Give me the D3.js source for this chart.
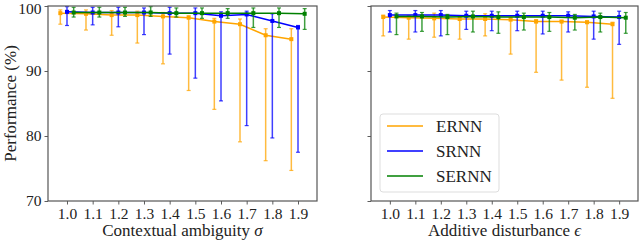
<!DOCTYPE html>
<html>
<head>
<meta charset="utf-8">
<script src="https://cdn.jsdelivr.net/npm/d3@7"></script>
<style>
  body { margin: 0; background: #fff; }
  svg text { font-family: "Liberation Serif", "Times New Roman", serif; fill: #222; }
</style>
</head>
<body>
<div id="chart"></div>
<script>
// x categories (sigma / epsilon)
const levels = [1.0, 1.1, 1.2, 1.3, 1.4, 1.5, 1.6, 1.7, 1.8, 1.9];
const yTicks = [70, 80, 90, 100];

// left panel: contextual ambiguity
const ernnAmbMean = [98.9, 98.8, 98.6, 98.6, 98.4, 98.2, 97.6, 97.2, 95.5, 94.9];
const ernnAmbLow  = [97.2, 96.3, 95.5, 94.3, 91.1, 87.0, 84.1, 79.1, 76.2, 74.7];
const ernnAmbHigh = [99.4, 99.4, 99.3, 99.2, 99.0, 98.5, 98.1, 98.0, 96.5, 96.5];

const srnnAmbMean = [99.1, 99.0, 99.0, 99.0, 98.9, 98.9, 98.5, 98.7, 97.7, 96.7];
const srnnAmbLow  = [97.0, 97.1, 96.8, 95.6, 92.6, 88.9, 85.4, 81.6, 79.7, 77.5];
const srnnAmbHigh = [99.9, 99.8, 99.8, 99.7, 99.8, 99.7, 99.1, 99.2, 98.8, 97.0];

const sernnAmbMean = [99.0, 99.0, 99.0, 99.0, 98.9, 98.9, 98.9, 98.9, 98.9, 98.8];
const sernnAmbLow  = [98.3, 98.3, 98.4, 98.4, 98.3, 98.1, 98.1, 96.7, 96.7, 96.4];
const sernnAmbHigh = [99.8, 99.8, 99.8, 99.9, 99.7, 99.7, 99.6, 99.7, 99.7, 99.6];

// right panel: additive disturbance
const ernnAddMean = [98.3, 98.2, 98.1, 98.0, 98.0, 97.9, 97.6, 97.6, 97.5, 97.2];
const ernnAddLow  = [95.4, 94.9, 95.2, 94.9, 95.4, 92.6, 89.8, 88.6, 87.5, 85.8];
const ernnAddHigh = [98.6, 98.5, 98.9, 98.4, 98.8, 98.2, 97.9, 97.8, 97.7, 97.5];

const srnnAddMean = [98.6, 98.6, 98.6, 98.5, 98.5, 98.5, 98.5, 98.5, 98.4, 98.3];
const srnnAddLow  = [96.0, 96.0, 95.4, 96.4, 96.2, 96.2, 95.7, 96.0, 94.9, 94.1];
const srnnAddHigh = [99.3, 99.3, 99.3, 99.2, 99.2, 99.2, 99.2, 99.1, 99.2, 99.2];

const sernnAddMean = [98.4, 98.4, 98.3, 98.4, 98.3, 98.3, 98.3, 98.2, 98.3, 98.2];
const sernnAddLow  = [95.6, 96.1, 95.6, 96.0, 95.8, 96.3, 96.1, 96.3, 96.0, 95.8];
const sernnAddHigh = [98.9, 99.0, 98.7, 99.2, 99.1, 98.9, 99.0, 98.7, 98.9, 99.0];

const seriesNames = ["ERNN", "SRNN", "SERNN"];
const colors = ["#FFA500", "#0000FF", "#008000"];
const offsets = [-0.026, 0, 0.026];

const panels = [
  {
    left: 48, right: 317, xlabel: "Contextual ambiguity ", sym: "σ", showY: true,
    series: [
      [ernnAmbMean, ernnAmbLow, ernnAmbHigh],
      [srnnAmbMean, srnnAmbLow, srnnAmbHigh],
      [sernnAmbMean, sernnAmbLow, sernnAmbHigh],
    ],
  },
  {
    left: 371, right: 638, xlabel: "Additive disturbance ", sym: "ϵ", showY: false,
    series: [
      [ernnAddMean, ernnAddLow, ernnAddHigh],
      [srnnAddMean, srnnAddLow, srnnAddHigh],
      [sernnAddMean, sernnAddLow, sernnAddHigh],
    ],
  },
];

const W = 640, H = 240, plotTop = 6, plotBottom = 201;

const svg = d3.select("#chart").append("svg")
  .attr("width", W).attr("height", H);

const y = d3.scaleLinear().domain([70, 100]).range([plotBottom, plotTop]);

panels.forEach((p) => {
  const x = d3.scaleLinear().domain([0.926, 1.974]).range([p.left, p.right]);
  const g = svg.append("g");

  // x axis
  const xa = g.append("g")
    .attr("transform", `translate(0,${plotBottom})`)
    .call(d3.axisBottom(x).tickValues(levels).tickFormat(d3.format(".1f")).tickSize(3.5).tickPadding(3));
  xa.select(".domain").remove();
  xa.selectAll("line").attr("stroke", "#333").attr("stroke-width", 0.8);
  xa.selectAll("text").attr("font-size", 15.5).attr("fill", "#222");

  // y axis
  const ya = g.append("g")
    .attr("transform", `translate(${p.left},0)`)
    .call(d3.axisLeft(y).tickValues(yTicks).tickSize(3.5).tickPadding(3)
      .tickFormat(p.showY ? d3.format("d") : () => ""));
  ya.select(".domain").remove();
  ya.selectAll("line").attr("stroke", "#333").attr("stroke-width", 0.8);
  ya.selectAll("text").attr("font-size", 15.5).attr("fill", "#222")
    .attr("dy", (d) => (d === 100 ? "0.5em" : "0.32em"));

  // series
  p.series.forEach((s, si) => {
    const [mean, low, high] = s;
    const col = colors[si];
    const pts = levels.map((lv, i) => ({ x: lv + offsets[si], m: mean[i], lo: low[i], hi: high[i] }));
    const sg = g.append("g");

    sg.selectAll("line.err").data(pts).enter().append("line")
      .attr("x1", (d) => x(d.x)).attr("x2", (d) => x(d.x))
      .attr("y1", (d) => y(d.lo)).attr("y2", (d) => y(d.hi))
      .attr("stroke", col).attr("stroke-width", 1.5).attr("opacity", 0.75);

    ["lo", "hi"].forEach((k) => {
      sg.selectAll("line.cap-" + k).data(pts).enter().append("line")
        .attr("x1", (d) => x(d.x) - 2).attr("x2", (d) => x(d.x) + 2)
        .attr("y1", (d) => y(d[k])).attr("y2", (d) => y(d[k]))
        .attr("stroke", col).attr("stroke-width", 1.2).attr("opacity", 0.75);
    });

    sg.append("path").datum(pts)
      .attr("d", d3.line().x((d) => x(d.x)).y((d) => y(d.m)))
      .attr("fill", "none").attr("stroke", col).attr("stroke-width", 1.5);

    sg.selectAll("rect").data(pts).enter().append("rect")
      .attr("x", (d) => x(d.x) - 2).attr("y", (d) => y(d.m) - 2)
      .attr("width", 4).attr("height", 4).attr("fill", col);
  });

  // frame
  g.append("rect")
    .attr("x", p.left).attr("y", plotTop)
    .attr("width", p.right - p.left).attr("height", plotBottom - plotTop)
    .attr("fill", "none").attr("stroke", "#555").attr("stroke-width", 1.2);

  // x label
  const xl = g.append("text")
    .attr("x", (p.left + p.right) / 2).attr("y", 236)
    .attr("text-anchor", "middle").attr("font-size", 17);
  xl.append("tspan").text(p.xlabel);
  xl.append("tspan").attr("font-style", "italic").text(p.sym);
});

// y label
svg.append("text")
  .attr("transform", `translate(16,${(plotTop + plotBottom) / 2}) rotate(-90)`)
  .attr("text-anchor", "middle").attr("font-size", 17)
  .text("Performance (%)");

// legend
const lg = svg.append("g");
lg.append("rect")
  .attr("x", 380).attr("y", 114).attr("width", 119).attr("height", 78)
  .attr("rx", 3).attr("fill", "#fff").attr("fill-opacity", 0.8)
  .attr("stroke", "#ddd").attr("stroke-width", 1);
seriesNames.forEach((name, i) => {
  const ly = 126 + i * 25;
  lg.append("line")
    .attr("x1", 387).attr("x2", 423).attr("y1", ly).attr("y2", ly)
    .attr("stroke", colors[i]).attr("stroke-width", 1.5);
  lg.append("text")
    .attr("x", 436).attr("y", ly + 6).attr("font-size", 17).text(name);
});
</script>
</body>
</html>
